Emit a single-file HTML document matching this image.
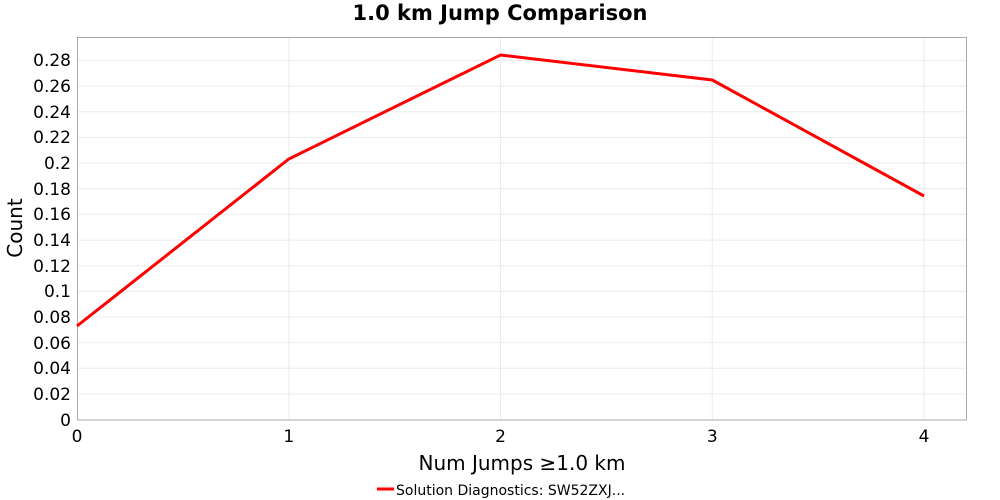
<!DOCTYPE html>
<html><head><meta charset="utf-8"><style>body{margin:0;background:#fff}svg{display:block}</style></head>
<body>
<svg width="1000" height="500" xmlns="http://www.w3.org/2000/svg" font-family="DejaVu Sans, sans-serif">
<rect width="1000" height="500" fill="#fff"/>
<text x="500" y="20" text-anchor="middle" font-size="21" font-weight="bold">1.0 km Jump Comparison</text>
<g stroke="#ebebeb" stroke-width="1">
<line x1="77" x2="967" y1="394" y2="394"/><line x1="77" x2="967" y1="368.3" y2="368.3"/>
<line x1="77" x2="967" y1="342.7" y2="342.7"/><line x1="77" x2="967" y1="317" y2="317"/>
<line x1="77" x2="967" y1="291.4" y2="291.4"/><line x1="77" x2="967" y1="265.7" y2="265.7"/>
<line x1="77" x2="967" y1="240.1" y2="240.1"/><line x1="77" x2="967" y1="214.4" y2="214.4"/>
<line x1="77" x2="967" y1="188.8" y2="188.8"/><line x1="77" x2="967" y1="163.1" y2="163.1"/>
<line x1="77" x2="967" y1="137.5" y2="137.5"/><line x1="77" x2="967" y1="111.8" y2="111.8"/>
<line x1="77" x2="967" y1="86.2" y2="86.2"/><line x1="77" x2="967" y1="60.5" y2="60.5"/>
<line y1="37" y2="420" x1="288.8" x2="288.8"/><line y1="37" y2="420" x1="500.5" x2="500.5"/>
<line y1="37" y2="420" x1="712.3" x2="712.3"/><line y1="37" y2="420" x1="924" x2="924"/>
</g>
<rect x="77.5" y="37.5" width="889" height="382.5" fill="none" stroke="#aaa"/>
<g font-size="17" text-anchor="end" fill="#000">
<text x="71" y="426">0</text><text x="71" y="400">0.02</text><text x="71" y="374">0.04</text>
<text x="71" y="349">0.06</text><text x="71" y="323">0.08</text><text x="71" y="297">0.1</text>
<text x="71" y="272">0.12</text><text x="71" y="246">0.14</text><text x="71" y="220">0.16</text>
<text x="71" y="195">0.18</text><text x="71" y="169">0.2</text><text x="71" y="143">0.22</text>
<text x="71" y="118">0.24</text><text x="71" y="92">0.26</text><text x="71" y="66">0.28</text>
</g>
<g font-size="17" text-anchor="middle">
<text x="77" y="442">0</text><text x="288.8" y="442">1</text><text x="500.5" y="442">2</text>
<text x="712.3" y="442">3</text><text x="924" y="442">4</text>
</g>
<text x="522" y="470" text-anchor="middle" font-size="20">Num Jumps ≥1.0 km</text>
<text transform="translate(22,228) rotate(-90)" text-anchor="middle" font-size="20">Count</text>
<polyline fill="none" stroke="#f00" stroke-width="3" points="77,326 288.8,159 500.5,55 712.3,80 924,196"/>
<line x1="377" x2="394" y1="489" y2="489" stroke="#f00" stroke-width="3"/>
<text x="396" y="495" font-size="14">Solution Diagnostics: SW52ZXJ...</text>
</svg>
</body></html>
